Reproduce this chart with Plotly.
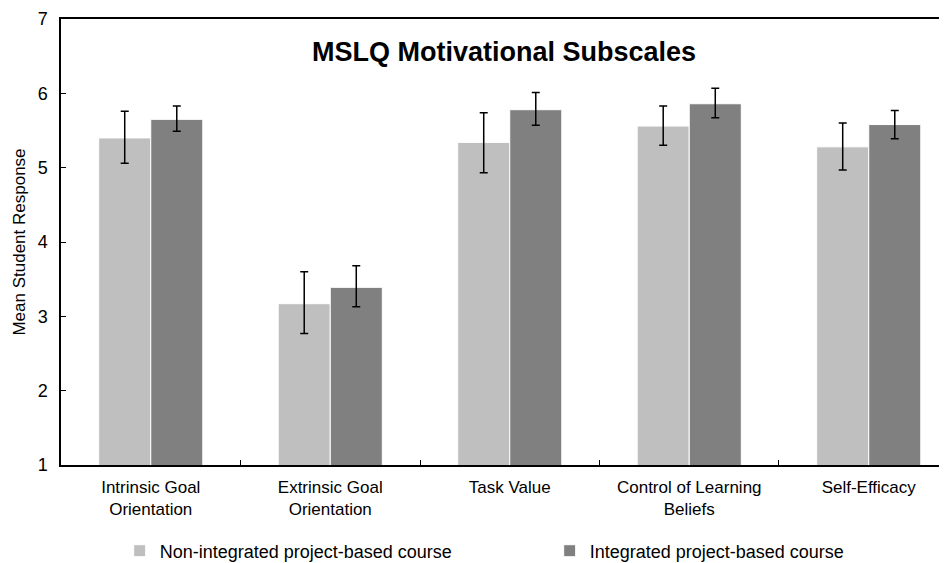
import plotly.graph_objects as go

categories = ["Intrinsic Goal<br>Orientation", "Extrinsic Goal<br>Orientation", "Task Value",
              "Control of Learning<br>Beliefs", "Self-Efficacy"]
non_integrated = [5.40, 3.17, 5.34, 5.56, 5.28]
non_err_plus = [0.36, 0.43, 0.40, 0.27, 0.32]
non_err_minus = [0.34, 0.40, 0.41, 0.26, 0.31]
integrated = [5.65, 3.39, 5.78, 5.86, 5.58]
int_err_plus = [0.18, 0.29, 0.23, 0.21, 0.19]
int_err_minus = [0.16, 0.26, 0.21, 0.19, 0.19]
y_ticks = [1, 2, 3, 4, 5, 6, 7]

fig = go.Figure()
fig.add_trace(go.Bar(
    name="Non-integrated project-based course", x=categories, y=non_integrated,
    marker=dict(color="#BFBFBF", line=dict(color="white", width=1)),
    error_y=dict(type="data", symmetric=False, array=non_err_plus, arrayminus=non_err_minus,
                 color="black", thickness=1.5, width=4),
))
fig.add_trace(go.Bar(
    name="Integrated project-based course", x=categories, y=integrated,
    marker=dict(color="#808080", line=dict(color="white", width=1)),
    error_y=dict(type="data", symmetric=False, array=int_err_plus, arrayminus=int_err_minus,
                 color="black", thickness=1.5, width=4),
))

fig.update_layout(
    width=947, height=563,
    margin=dict(l=53, r=8, t=11, b=106),
    paper_bgcolor="white", plot_bgcolor="white",
    barmode="group", bargap=0.42, bargroupgap=0.0,
    font=dict(family="Liberation Sans, Arial, sans-serif", color="black"),
    showlegend=True,
    legend=dict(orientation="h", x=0.572, xanchor="center", xref="container",
                y=0.0355, yanchor="middle", yref="container",
                font=dict(size=18), itemwidth=30, entrywidth=385),
    annotations=[dict(text="<b>MSLQ Motivational Subscales</b>", x=0.5, xref="paper",
                      y=6.56, yref="y", showarrow=False, font=dict(size=27), yanchor="middle")],
)
fig.update_xaxes(
    type="category", range=[-0.5, 4.436], tickson="boundaries", ticks="inside", ticklen=5,
    tickcolor="black", showline=True, linecolor="black", linewidth=1.5, mirror=True,
    tickfont=dict(size=17), showgrid=False, automargin=False, ticklabelstandoff=6,
)
fig.update_yaxes(
    range=[1, 7], tickvals=y_ticks, ticks="inside", ticklen=5, tickcolor="black",
    showline=True, linecolor="black", linewidth=1.5, showgrid=False, zeroline=False,
    tickfont=dict(size=18), automargin=False, ticklabelstandoff=8, ticklabeloverflow="allow",
    title=dict(text="Mean Student Response", font=dict(size=17), standoff=8),
)

fig.write_html("out.html")
